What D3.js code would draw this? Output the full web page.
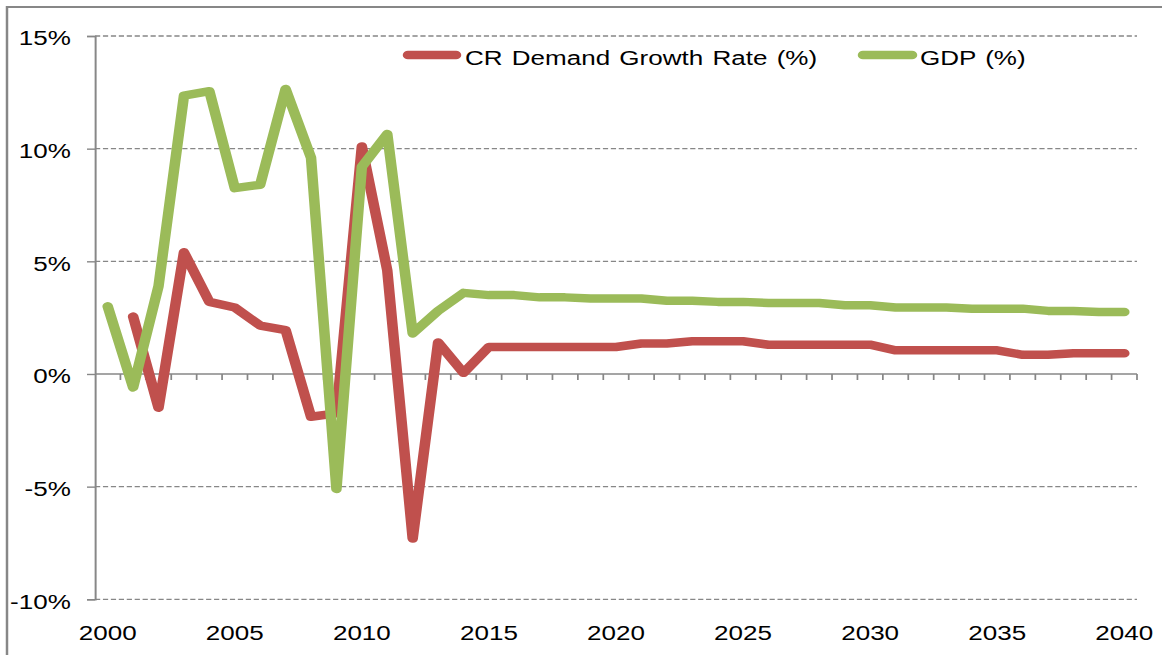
<!DOCTYPE html>
<html>
<head>
<meta charset="utf-8">
<script src="https://cdn.jsdelivr.net/npm/d3@7/dist/d3.min.js"></script>
<style>
  html, body { margin: 0; padding: 0; background: #fff; }
  svg { display: block; }
  text { font-family: "Liberation Sans", Arial, sans-serif; fill: #000; }
</style>
</head>
<body>
<div id="chart"></div>
<script>
const years = [2000,2001,2002,2003,2004,2005,2006,2007,2008,2009,
  2010,2011,2012,2013,2014,2015,2016,2017,2018,2019,
  2020,2021,2022,2023,2024,2025,2026,2027,2028,2029,
  2030,2031,2032,2033,2034,2035,2036,2037,2038,2039,2040];

const demandGrowth = [null,2.55,-1.5,5.4,3.2,2.95,2.15,1.95,-1.9,-1.75,
  10.1,4.6,-7.3,1.4,0.05,1.2,1.2,1.2,1.2,1.2,
  1.2,1.35,1.35,1.45,1.45,1.45,1.3,1.3,1.3,1.3,
  1.3,1.05,1.05,1.05,1.05,1.05,0.85,0.85,0.92,0.92,0.92];

const gdpGrowth = [3.0,-0.6,3.9,12.35,12.55,8.25,8.4,12.65,9.6,-5.1,
  9.2,10.65,1.8,2.8,3.6,3.5,3.5,3.4,3.4,3.35,
  3.35,3.35,3.25,3.25,3.2,3.2,3.15,3.15,3.15,3.05,
  3.05,2.95,2.95,2.95,2.9,2.9,2.9,2.8,2.8,2.75,2.75];

const yTicks = [-10,-5,0,5,10,15];
const xLabels = [2000,2005,2010,2015,2020,2025,2030,2035,2040];
const seriesNames = ["CR Demand Growth Rate (%)", "GDP (%)"];
const seriesColors = ["#C0504D", "#9BBB59"];

// The original picture is stretched horizontally; reproduce with a stretched viewBox.
const k = 1.24;
const W = 1162, H = 655, VW = W / k;

const svg = d3.select("#chart").append("svg")
  .attr("width", W).attr("height", H)
  .attr("viewBox", `0 0 ${VW} ${H}`)
  .attr("preserveAspectRatio", "none");

const plotLeft = 95 / k, plotRight = 1137 / k;
const x = d3.scaleBand().domain(years).range([plotLeft, plotRight]);
const y = d3.scaleLinear().domain([-10, 15]).range([599.3, 36]);
const cx = d => x(d) + x.bandwidth() / 2;

const grey = "#878787";

// outer frame (cropped on right and bottom)
svg.append("path")
  .attr("d", `M${7/k},${H+5} L${7/k},7 L${VW+5},7`)
  .attr("fill", "none").attr("stroke", grey).attr("stroke-width", 2);

// gridlines
svg.append("g").selectAll("line")
  .data(yTicks.filter(v => v !== 0))
  .join("line")
  .attr("x1", plotLeft).attr("x2", plotRight)
  .attr("y1", d => y(d)).attr("y2", d => y(d))
  .attr("stroke", grey).attr("stroke-width", 1.3)
  .attr("stroke-dasharray", "4.2,2.2");

// y axis
const yAxis = svg.append("g")
  .attr("transform", `translate(${plotLeft},0)`)
  .call(d3.axisLeft(y).tickValues(yTicks).tickFormat(d => d + "%")
    .tickSize(8 / k).tickPadding(13));
yAxis.select(".domain").attr("stroke", grey).attr("stroke-width", 1.6);
yAxis.selectAll(".tick line").attr("stroke", grey).attr("stroke-width", 1.4);
yAxis.selectAll(".tick text")
  .attr("font-family", "Liberation Sans, Arial, sans-serif")
  .attr("font-size", 21).attr("fill", "#000")
  .attr("dy", "0.42em");

// x axis line at 0
const xg = svg.append("g");
xg.append("line")
  .attr("x1", plotLeft).attr("x2", plotRight)
  .attr("y1", y(0)).attr("y2", y(0))
  .attr("stroke", grey).attr("stroke-width", 1.6);
xg.selectAll("line.tk")
  .data(years.slice(1).concat(["end"]))
  .join("line").attr("class", "tk")
  .attr("x1", d => d === "end" ? plotRight : x(d))
  .attr("x2", d => d === "end" ? plotRight : x(d))
  .attr("y1", y(0)).attr("y2", y(0) + 6)
  .attr("stroke", grey).attr("stroke-width", 1.4);
xg.selectAll("text")
  .data(xLabels)
  .join("text")
  .attr("x", d => cx(d))
  .attr("y", 640)
  .attr("text-anchor", "middle")
  .attr("font-size", 21)
  .text(d => d);

// series lines (GDP drawn last, on top)
const series = [demandGrowth, gdpGrowth];
const line = d3.line()
  .defined(d => d.v !== null)
  .x(d => cx(d.year))
  .y(d => y(d.v));

[0, 1].forEach(i => {
  svg.append("path")
    .datum(years.map((yr, j) => ({ year: yr, v: series[i][j] })))
    .attr("d", line)
    .attr("fill", "none")
    .attr("stroke", seriesColors[i])
    .attr("stroke-width", 8.5)
    .attr("stroke-linejoin", "round")
    .attr("stroke-linecap", "round");
});

// legend
const legendItems = [
  { x1: 408, x2: 456, tx: 465 },
  { x1: 863, x2: 912, tx: 920 }
];
const lg = svg.append("g");
legendItems.forEach((it, i) => {
  lg.append("line")
    .attr("x1", it.x1 / k).attr("x2", it.x2 / k)
    .attr("y1", 55).attr("y2", 55)
    .attr("stroke", seriesColors[i]).attr("stroke-width", 8.5)
    .attr("stroke-linecap", "round");
  lg.append("text")
    .attr("x", it.tx / k).attr("y", 65)
    .attr("font-size", 21)
    .attr("word-spacing", 1.6)
    .text(seriesNames[i]);
});
</script>
</body>
</html>
